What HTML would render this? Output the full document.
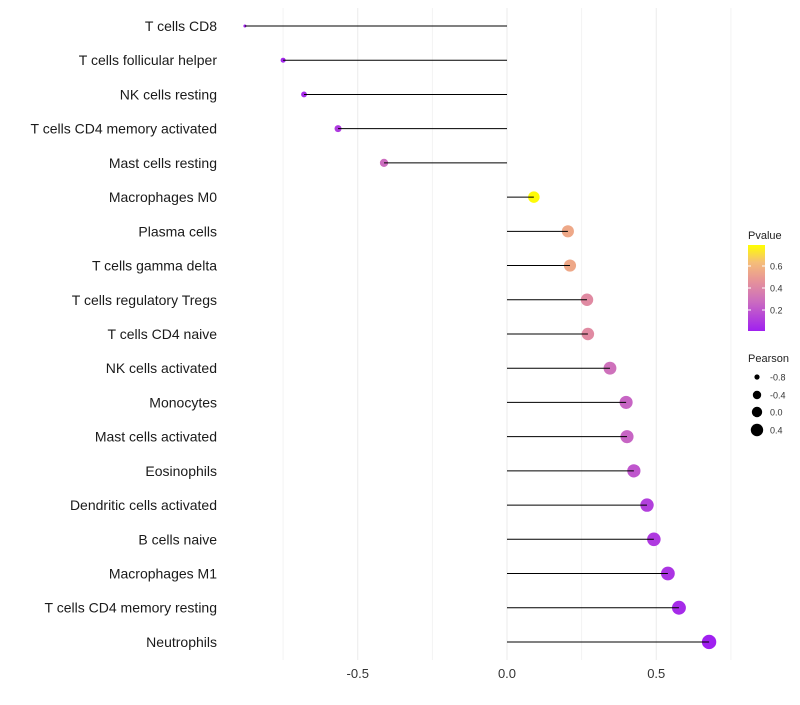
<!DOCTYPE html>
<html><head><meta charset="utf-8"><style>
body{margin:0;background:#fff;font-family:"Liberation Sans",sans-serif}
</style></head><body>
<svg id="chart" width="800" height="700" xmlns="http://www.w3.org/2000/svg"></svg>
<script>
const categories=["T cells CD8","T cells follicular helper","NK cells resting","T cells CD4 memory activated","Mast cells resting","Macrophages M0","Plasma cells","T cells gamma delta","T cells regulatory  Tregs ","T cells CD4 naive","NK cells activated","Monocytes","Mast cells activated","Eosinophils","Dendritic cells activated","B cells naive","Macrophages M1","T cells CD4 memory resting","Neutrophils"];
const pearson=[-0.878,-0.75,-0.68,-0.566,-0.412,0.09,0.204,0.211,0.268,0.271,0.345,0.399,0.402,0.425,0.469,0.492,0.539,0.576,0.677];
const pvalue=[0.02,0.03,0.05,0.1,0.28,0.78,0.55,0.55,0.42,0.42,0.3,0.25,0.25,0.2,0.12,0.1,0.08,0.05,0.01];
const xTicks=[-0.5,0,0.5];
const xTickLabels=["-0.5","0.0","0.5"];
const minorTicks=[-0.75,-0.25,0.25,0.75];
const NS="http://www.w3.org/2000/svg";
const svg=document.getElementById('chart');
const xs=v=>507+v*298.5;
const ys=i=>26+i*34.22;
const rad=v=>{const f=Math.max(0,(v+0.88)/1.56);return Math.sqrt(1.5*1.5+f*(7.2*7.2-1.5*1.5));};
function col(p){
  const t=Math.max(0,Math.min(1,(p-0.01)/0.78));
  const stops=[[0,[160,32,240]],[0.35,[204,110,190]],[0.6,[232,150,150]],[0.8,[245,190,120]],[1,[255,255,0]]];
  for(let k=1;k<stops.length;k++){if(t<=stops[k][0]){const a=stops[k-1],b=stops[k];const f=(t-a[0])/(b[0]-a[0]);
  return 'rgb('+a[1].map((c,j)=>Math.round(c+(b[1][j]-c)*f)).join(',')+')';}}
  return 'rgb(255,255,0)';
}
function el(tag,attrs,parent){const e=document.createElementNS(NS,tag);for(const k in attrs)e.setAttribute(k,attrs[k]);(parent||svg).appendChild(e);return e;}
minorTicks.forEach(t=>{const l=el('line',{x1:xs(t),x2:xs(t),y1:8,y2:660,stroke:'#f3f3f3','stroke-width':1});

});
xTicks.forEach((t,i)=>{const l=el('line',{x1:xs(t),x2:xs(t),y1:8,y2:660,stroke:'#ebebeb','stroke-width':1});


const tx=el('text',{x:xs(t),y:678,'text-anchor':'middle','font-size':13,fill:'#333'});tx.textContent=xTickLabels[i];

});
categories.forEach((c,i)=>{
  const y=ys(i);
  const lab=el('text',{x:217,y:y+5,'text-anchor':'end','font-size':14,fill:'#1a1a1a','xml:space':'preserve'});lab.textContent=c;
  
  
  const pt=el('circle',{cx:xs(pearson[i]),cy:y,r:rad(pearson[i]),fill:col(pvalue[i])});
  
  
  const ln=el('line',{x1:xs(0),x2:xs(pearson[i]),y1:y,y2:y,stroke:'#000','stroke-width':1});
  
  
});
const defs=el('defs',{});
const g=el('linearGradient',{id:'pg',x1:0,y1:1,x2:0,y2:0},defs);
[[0,'#a020f0'],[0.35,'#cc6ebe'],[0.6,'#e89696'],[0.8,'#f5be78'],[1,'#ffff00']].forEach(s=>el('stop',{offset:s[0],'stop-color':s[1]},g));
const t1=el('text',{x:748,y:239,'font-size':11,fill:'#222'});t1.textContent='Pvalue';


const cb=el('rect',{x:748,y:245,width:17,height:86,fill:'url(#pg)'});


[[0.6,266],[0.4,288],[0.2,310]].forEach(d=>{const t=el('text',{x:770,y:d[1]+3.5,'font-size':9,fill:'#333'});t.textContent=d[0].toFixed(1);


el('line',{x1:748,x2:751,y1:d[1],y2:d[1],stroke:'#fff'});el('line',{x1:762,x2:765,y1:d[1],y2:d[1],stroke:'#fff'});});
const t2=el('text',{x:748,y:362,'font-size':11,fill:'#222'});t2.textContent='Pearson';


[[-0.8,377,2.6],[-0.4,395,4.2],[0.0,412,5.2],[0.4,430,6.2]].forEach(d=>{const c=el('circle',{cx:757,cy:d[1],r:d[2],fill:'#000'});


const t=el('text',{x:770,y:d[1]+3.5,'font-size':9,fill:'#333'});t.textContent=d[0].toFixed(1);

});
</script>
</body></html>
